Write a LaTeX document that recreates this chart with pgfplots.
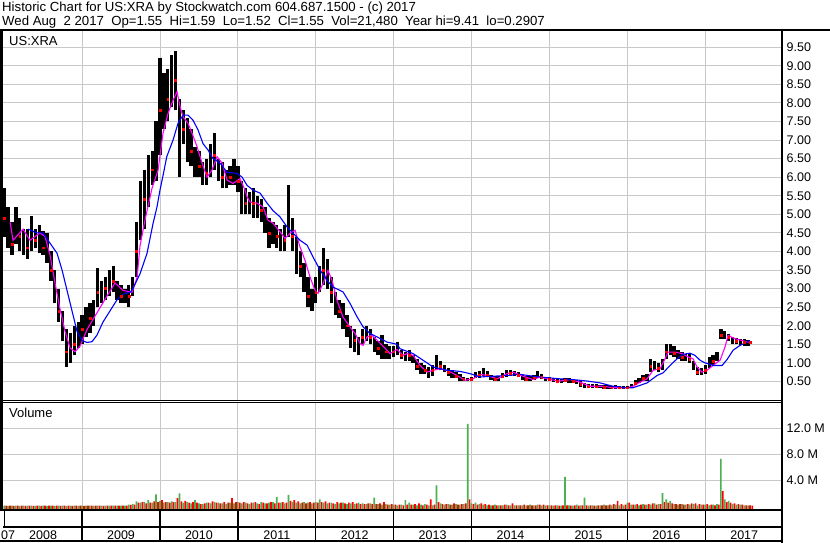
\documentclass[border=0pt]{standalone}
\usepackage{pgfplots}
\pgfplotsset{compat=1.18}
\usepackage{pgfplotstable}
\usepackage{fontspec}
\setmainfont{Liberation Sans}
\definecolor{gridc}{RGB}{200,200,200}
\definecolor{volg}{RGB}{76,176,80}
\definecolor{volr}{RGB}{255,0,0}
\definecolor{mag}{RGB}{255,0,255}
\definecolor{mab}{RGB}{0,0,255}

\pgfplotstableread{
x lo hi c g r
2008.00 4.40 5.70 4.90 0.05 0.04
2008.05 4.10 5.20 4.50 0.03 0.05
2008.10 3.90 4.80 4.20 0.04 0.03
2008.15 4.20 5.20 4.60 0.05 0.04
2008.20 4.00 4.90 4.40 0.03 0.05
2008.25 3.90 4.60 4.20 0.04 0.03
2008.30 3.80 4.60 4.10 0.05 0.06
2008.35 4.00 4.95 4.50 0.04 0.03
2008.40 4.10 4.60 4.30 0.03 0.04
2008.45 3.95 4.70 4.40 0.05 0.03
2008.50 3.90 4.55 4.10 0.04 0.05
2008.55 3.70 4.50 3.90 0.03 0.04
2008.60 3.20 4.00 3.50 0.04 0.05
2008.65 2.60 3.50 2.90 0.03 0.04
2008.70 2.10 3.00 2.40 0.05 0.03
2008.75 1.60 2.40 1.90 0.04 0.05
2008.80 0.90 1.90 1.30 0.03 0.04
2008.85 1.00 1.80 1.30 0.05 0.03
2008.90 1.20 2.00 1.50 0.04 0.04
2008.95 1.40 2.10 1.80 0.03 0.05
2009.00 1.50 2.30 1.90 0.04 0.03
2009.05 1.70 2.50 2.10 0.05 0.04
2009.10 1.80 2.60 2.20 0.04 0.05
2009.15 2.00 2.70 2.40 0.03 0.04
2009.20 2.50 3.55 2.90 0.05 0.06
2009.25 2.60 3.20 2.80 0.04 0.03
2009.30 2.70 3.30 3.00 0.05 0.04
2009.35 2.80 3.50 3.10 0.06 0.05
2009.40 2.90 3.60 3.20 0.05 0.04
2009.45 2.70 3.20 2.90 0.04 0.05
2009.50 2.60 3.10 2.80 0.05 0.04
2009.55 2.60 3.00 2.70 0.06 0.05
2009.60 2.50 3.10 2.80 0.20 0.15
2009.65 2.80 3.30 3.00 0.30 0.20
2009.70 3.30 4.80 4.00 0.70 0.50
2009.75 4.30 5.90 5.00 0.50 0.60
2009.80 4.60 6.20 5.40 0.60 0.40
2009.85 5.20 6.60 5.90 0.90 0.50
2009.90 5.80 6.70 6.20 0.50 0.70
2009.95 5.90 7.50 6.60 1.80 0.60
2010.00 6.60 9.20 7.80 0.80 0.90
2010.05 7.30 8.80 7.90 0.50 0.60
2010.10 7.50 8.90 8.10 0.60 0.50
2010.15 7.90 9.30 8.50 0.70 0.60
2010.20 7.80 9.40 8.60 0.60 1.20
2010.25 6.00 8.10 7.00 1.95 0.70
2010.30 6.90 7.80 7.30 0.50 0.80
2010.35 6.40 7.60 7.00 0.60 0.50
2010.40 6.30 7.30 6.70 0.40 0.60
2010.45 6.00 6.80 6.40 0.90 0.50
2010.50 6.00 6.70 6.30 0.40 0.30
2010.55 5.80 6.40 6.10 0.30 0.40
2010.60 5.80 6.50 6.10 0.50 0.50
2010.65 6.00 6.90 6.40 0.40 0.70
2010.70 6.20 7.20 6.60 0.60 0.50
2010.75 5.90 6.50 6.20 0.50 0.40
2010.80 5.70 6.40 6.00 0.40 0.60
2010.85 5.70 6.20 5.90 0.30 0.50
2010.90 5.80 6.30 6.00 0.50 1.20
2010.95 5.80 6.50 6.10 0.40 0.60
2011.00 5.60 6.30 5.90 0.60 0.50
2011.05 5.00 5.90 5.40 0.40 0.60
2011.10 5.00 5.70 5.30 0.50 0.40
2011.15 5.00 5.60 5.30 0.30 0.50
2011.20 4.90 5.70 5.30 0.50 0.60
2011.25 4.90 5.50 5.20 0.40 0.30
2011.30 4.80 5.40 5.10 0.60 0.50
2011.35 4.50 5.20 4.80 0.40 0.40
2011.40 4.10 4.90 4.50 0.50 0.60
2011.45 4.20 4.80 4.50 0.60 0.40
2011.50 4.10 4.70 4.40 1.40 0.50
2011.55 4.00 4.60 4.30 0.50 0.60
2011.60 4.00 4.70 4.30 0.40 0.50
2011.65 4.40 5.80 4.80 1.70 0.80
2011.70 4.00 4.90 4.40 0.60 0.90
2011.75 3.40 4.40 3.80 0.50 0.70
2011.80 3.30 4.00 3.60 0.40 0.50
2011.85 2.90 3.70 3.20 0.60 0.40
2011.90 2.50 3.30 2.80 0.50 0.60
2011.95 2.40 3.00 2.70 0.40 0.50
2012.00 2.60 3.30 2.90 0.60 0.50
2012.05 2.90 3.60 3.20 1.00 0.60
2012.10 3.10 4.10 3.50 0.50 0.70
2012.15 3.00 3.80 3.30 0.40 0.50
2012.20 2.60 3.30 2.90 0.50 0.40
2012.25 2.30 2.90 2.60 0.30 0.60
2012.30 2.20 2.70 2.40 0.40 0.50
2012.35 1.90 2.60 2.20 0.50 0.40
2012.40 1.70 2.30 2.00 0.30 0.50
2012.45 1.40 2.00 1.70 0.40 0.60
2012.50 1.30 1.90 1.60 0.30 0.40
2012.55 1.20 1.70 1.40 0.50 0.30
2012.60 1.50 1.90 1.70 0.40 0.30
2012.65 1.60 2.00 1.80 0.30 0.40
2012.70 1.50 1.90 1.70 0.40 0.30
2012.75 1.30 1.70 1.50 1.30 0.30
2012.80 1.20 1.60 1.40 0.30 0.40
2012.85 1.10 1.75 1.30 0.20 0.60
2012.90 1.10 1.50 1.30 0.30 0.20
2012.95 1.10 1.45 1.25 0.20 0.30
2013.00 1.15 1.45 1.30 0.20 0.20
2013.05 1.20 1.55 1.35 0.10 0.20
2013.10 1.10 1.35 1.20 0.20 0.10
2013.15 1.05 1.30 1.15 0.90 0.20
2013.20 1.05 1.35 1.20 0.50 0.20
2013.25 1.00 1.20 1.10 0.20 0.30
2013.30 0.80 1.10 0.90 0.10 0.40
2013.35 0.70 1.00 0.80 0.20 0.10
2013.40 0.70 0.95 0.80 0.30 0.20
2013.45 0.60 0.90 0.70 0.10 1.00
2013.50 0.65 0.95 0.80 0.10 0.20
2013.55 0.80 1.20 0.95 3.20 0.60
2013.60 0.80 1.05 0.90 0.40 0.30
2013.65 0.75 0.95 0.85 0.20 0.30
2013.70 0.65 0.85 0.75 0.30 0.20
2013.75 0.60 0.80 0.70 0.20 0.40
2013.80 0.60 0.75 0.65 0.30 0.20
2013.85 0.50 0.70 0.58 0.20 0.30
2013.90 0.50 0.62 0.55 0.30 0.40
2013.95 0.50 0.60 0.55 12.70 1.00
2014.00 0.50 0.62 0.55 0.40 0.30
2014.05 0.60 0.75 0.66 0.50 0.20
2014.10 0.60 0.78 0.68 0.30 0.40
2014.15 0.65 0.85 0.72 0.20 0.30
2014.20 0.62 0.78 0.68 0.10 0.20
2014.25 0.55 0.68 0.60 0.10 0.10
2014.30 0.52 0.64 0.57 0.20 0.10
2014.35 0.52 0.64 0.57 0.10 0.10
2014.40 0.58 0.72 0.63 0.10 0.20
2014.45 0.62 0.80 0.70 0.20 0.10
2014.50 0.65 0.82 0.72 0.10 0.40
2014.55 0.65 0.78 0.70 0.10 0.10
2014.60 0.62 0.75 0.67 0.10 0.10
2014.65 0.55 0.66 0.60 0.10 0.20
2014.70 0.52 0.64 0.57 0.10 0.10
2014.75 0.52 0.64 0.58 0.20 0.10
2014.80 0.55 0.66 0.60 0.10 0.10
2014.85 0.60 0.78 0.66 0.20 0.20
2014.90 0.56 0.70 0.62 0.10 0.20
2014.95 0.50 0.63 0.55 0.10 0.10
2015.00 0.50 0.62 0.55 0.10 0.10
2015.05 0.48 0.58 0.52 0.05 0.10
2015.10 0.45 0.56 0.50 0.10 0.05
2015.15 0.46 0.57 0.50 0.05 0.10
2015.20 0.48 0.60 0.53 4.50 0.10
2015.25 0.47 0.58 0.52 0.10 0.05
2015.30 0.46 0.56 0.50 0.05 0.10
2015.35 0.44 0.54 0.48 0.20 0.05
2015.40 0.36 0.50 0.42 0.10 0.10
2015.45 0.32 0.45 0.37 1.30 0.10
2015.50 0.32 0.43 0.36 0.05 0.10
2015.55 0.33 0.44 0.37 0.10 0.05
2015.60 0.32 0.42 0.36 0.05 0.10
2015.65 0.31 0.41 0.35 0.10 0.10
2015.70 0.30 0.40 0.34 0.20 0.10
2015.75 0.30 0.40 0.34 0.10 0.20
2015.80 0.30 0.38 0.33 0.10 0.30
2015.85 0.30 0.40 0.34 0.20 0.80
2015.90 0.29 0.38 0.33 0.10 0.30
2015.95 0.29 0.38 0.33 0.10 0.20
2016.00 0.29 0.38 0.33 0.50 0.50
2016.05 0.32 0.42 0.36 0.20 0.20
2016.10 0.40 0.55 0.46 0.20 0.30
2016.15 0.45 0.60 0.52 0.10 0.20
2016.20 0.50 0.68 0.58 0.30 0.20
2016.25 0.52 0.70 0.60 0.20 0.30
2016.30 0.75 1.10 0.90 0.20 0.40
2016.35 0.80 1.05 0.90 0.40 0.20
2016.40 0.75 1.00 0.85 0.30 0.30
2016.45 0.80 1.10 0.95 2.00 0.60
2016.50 1.10 1.50 1.30 1.00 0.50
2016.55 1.20 1.50 1.35 0.80 0.40
2016.60 1.15 1.45 1.25 0.30 0.30
2016.65 1.10 1.35 1.20 0.20 0.30
2016.70 1.05 1.30 1.15 0.30 0.20
2016.75 1.05 1.25 1.15 0.20 0.30
2016.80 1.00 1.25 1.10 0.20 0.40
2016.85 0.80 1.05 0.90 0.30 0.40
2016.90 0.68 0.90 0.75 0.10 0.30
2016.95 0.66 0.85 0.72 0.20 0.20
2017.00 0.70 0.95 0.80 0.20 0.30
2017.05 0.85 1.15 1.00 0.10 0.20
2017.10 0.95 1.20 1.05 0.20 0.10
2017.15 1.05 1.30 1.15 0.30 0.20
2017.20 1.65 1.90 1.75 7.30 2.30
2017.25 1.65 1.85 1.72 1.00 0.60
2017.30 1.60 1.78 1.68 0.80 0.50
2017.35 1.52 1.70 1.60 0.30 0.40
2017.40 1.50 1.68 1.58 0.20 0.30
2017.45 1.48 1.65 1.55 0.20 0.20
2017.50 1.45 1.65 1.55 0.10 0.10
2017.55 1.45 1.62 1.52 0.10 0.10
2017.58 1.52 1.59 1.55 0.05 0.05
}\pxdata

\pgfplotstableread{
x y
2008.075 4.80
2008.114 4.30
2008.242 4.60
2008.332 4.30
2008.460 4.50
2008.525 4.40
2008.589 3.90
2008.653 3.15
2008.717 2.45
2008.781 1.85
2008.846 1.40
2008.910 1.30
2008.974 1.45
2009.064 1.90
2009.192 2.35
2009.321 2.80
2009.423 3.15
2009.526 2.95
2009.641 2.90
2009.706 3.30
2009.744 4.15
2009.808 4.85
2009.898 5.70
2009.975 6.18
2010.039 7.18
2010.104 7.72
2010.168 8.07
2010.219 8.30
2010.258 7.90
2010.296 7.63
2010.360 7.45
2010.412 7.18
2010.476 6.82
2010.540 6.38
2010.604 6.00
2010.668 6.19
2010.733 6.55
2010.797 6.38
2010.861 5.92
2010.938 5.83
2011.028 5.96
2011.092 5.65
2011.118 5.47
2011.156 5.33
2011.246 5.30
2011.323 5.20
2011.387 4.84
2011.451 4.76
2011.541 4.53
2011.605 4.35
2011.670 4.49
2011.734 4.57
2011.798 4.12
2011.862 3.76
2011.926 3.31
2011.991 2.95
2012.029 2.87
2012.093 3.13
2012.157 3.49
2012.209 3.22
2012.273 2.68
2012.350 2.23
2012.440 1.97
2012.504 1.79
2012.568 1.52
2012.607 1.47
2012.658 1.70
2012.722 1.74
2012.786 1.61
2012.864 1.45
2012.953 1.25
2013.043 1.36
2013.120 1.20
2013.172 1.25
2013.249 1.20
2013.339 0.93
2013.429 0.75
2013.506 0.80
2013.595 0.84
2013.685 0.80
2013.814 0.66
2013.916 0.53
2014.019 0.57
2014.109 0.69
2014.199 0.66
2014.327 0.57
2014.455 0.71
2014.533 0.75
2014.661 0.64
2014.789 0.55
2014.879 0.62
2015.007 0.55
2015.135 0.51
2015.264 0.55
2015.392 0.48
2015.520 0.37
2015.688 0.37
2015.816 0.33
2015.996 0.33
2016.073 0.37
2016.163 0.48
2016.253 0.57
2016.330 0.80
2016.420 0.84
2016.484 1.11
2016.522 1.29
2016.612 1.29
2016.702 1.25
2016.779 1.16
2016.843 1.11
2016.894 0.89
2016.958 0.75
2017.023 0.80
2017.100 0.93
2017.190 1.07
2017.254 1.43
2017.292 1.74
2017.382 1.65
2017.472 1.60
2017.549 1.56
2017.585 1.55
}\magdata

\pgfplotstableread{
x y
2008.306 4.60
2008.420 4.50
2008.499 4.50
2008.563 4.30
2008.679 3.95
2008.743 3.50
2008.807 2.95
2008.871 2.40
2008.935 1.85
2009.000 1.60
2009.064 1.55
2009.128 1.57
2009.192 1.75
2009.269 2.10
2009.359 2.40
2009.449 2.70
2009.526 2.85
2009.616 2.90
2009.654 3.00
2009.744 3.40
2009.834 3.95
2009.911 4.75
2009.962 5.20
2010.000 5.65
2010.045 6.10
2010.087 6.55
2010.168 7.00
2010.232 7.45
2010.296 7.67
2010.360 7.67
2010.425 7.53
2010.489 7.27
2010.553 6.90
2010.617 6.73
2010.681 6.50
2010.771 6.38
2010.861 6.13
2010.989 6.10
2011.054 6.00
2011.118 5.78
2011.195 5.65
2011.285 5.57
2011.375 5.30
2011.451 5.10
2011.541 4.93
2011.631 4.66
2011.708 4.49
2011.798 4.30
2011.888 4.17
2011.965 3.85
2012.055 3.50
2012.145 3.22
2012.222 3.04
2012.350 2.91
2012.440 2.60
2012.530 2.24
2012.607 1.97
2012.697 1.79
2012.786 1.70
2012.915 1.56
2013.043 1.50
2013.082 1.38
2013.249 1.25
2013.377 1.07
2013.506 0.89
2013.685 0.80
2013.852 0.77
2013.980 0.71
2014.109 0.62
2014.276 0.64
2014.455 0.66
2014.622 0.69
2014.789 0.64
2014.969 0.60
2015.135 0.57
2015.302 0.55
2015.482 0.51
2015.649 0.46
2015.816 0.37
2015.996 0.33
2016.073 0.33
2016.253 0.46
2016.381 0.66
2016.458 0.73
2016.548 0.93
2016.638 1.11
2016.715 1.23
2016.804 1.26
2016.869 1.20
2016.933 1.07
2016.997 1.00
2017.100 0.93
2017.216 0.93
2017.280 1.09
2017.357 1.34
2017.446 1.47
2017.536 1.56
2017.575 1.60
}\bluedata

\begin{document}
\begin{tikzpicture}[x=1pt,y=1pt]
\fill[white] (0,0) rectangle (830,543);
\pgfplotsset{
  common/.style={
    scale only axis, width=779pt,
    xmin=2007.985, xmax=2017.985,
    axis line style={draw=none},
    major tick length=0pt,
    grid=major,
    grid style={gridc, line width=0.9pt},
    xtick={2009,2010,2011,2012,2013,2014,2015,2016,2017},
    xticklabels={},
    yticklabel pos=right,
    yticklabel style={anchor=west, inner sep=0pt, xshift=4.5pt, font=\fontsize{12.5}{14}\selectfont},
    /pgf/number format/assume math mode=true,
  }
}
% price panel
\begin{axis}[common, at={(3pt,143pt)}, anchor=south west, height=369pt,
  ymin=0, ymax=9.935,
  ytick={0.5,1,1.5,2,2.5,3,3.5,4,4.5,5,5.5,6,6.5,7,7.5,8,8.5,9,9.5},
  yticklabel style={/pgf/number format/fixed, /pgf/number format/fixed zerofill, /pgf/number format/precision=2}]
\addplot[black, only marks, mark=*, mark size=0pt,
  error bars/.cd, y dir=plus, y explicit, error mark=none,
  error bar style={line width=3.3pt, black}]
  table[x=x, y=lo, y error expr=\thisrow{hi}-\thisrow{lo}] {\pxdata};
\addplot[only marks, mark=square*, mark size=0.9pt, red, each nth point=2] table[x=x, y=c] {\pxdata};
\addplot[mag, line width=1.1pt] table[x=x, y=y] {\magdata};
\addplot[mab, line width=1.1pt] table[x=x, y=y] {\bluedata};
\end{axis}
% volume panel
\begin{axis}[common, at={(3pt,33.5pt)}, anchor=south west, height=106.8pt,
  ymin=0, ymax=16.53, clip=false,
  ytick={4.55,8.55,12.55}, yticklabels={4.0 M,8.0 M,12.0 M}]
\addplot[ybar, bar width=1.7pt, bar shift=0pt, fill=volg, draw=none] table[x=x, y expr=\thisrow{g}+0.55] {\pxdata};
\addplot[ybar, bar width=1.7pt, bar shift=0pt, fill=volr, draw=none] table[x expr=\thisrow{x}+0.025, y expr=\thisrow{r}+0.55] {\pxdata};
\pgfplotsinvokeforeach{2009,2010,2011,2012,2013,2014,2015,2016,2017}{
  \draw[black, line width=1.3pt] (axis cs:#1,0) -- ++(0pt,-32pt);
}
\draw[black, line width=1.3pt] (axis cs:2008,0) -- ++(0pt,-17pt);
\pgfplotsinvokeforeach{2008,2009,2010,2011,2012,2013,2014,2015,2016,2017}{
  \node[anchor=base, inner sep=0pt, font=\fontsize{12.5}{14}\selectfont] at (axis cs:#1.5,0) [yshift=-29.8pt] {#1};
}
\end{axis}
% frame
\fill[black] (0,511.5) rectangle (830,513.5);
\fill[black] (0,33) rectangle (2.8,513);
\fill[black] (780.8,0) rectangle (782.8,513);
\fill[black] (2.8,141.8) rectangle (781,142.8);
\fill[black] (2.8,139.8) rectangle (781,140.8);
\fill[black] (0,32) rectangle (781,34);
\fill[black] (2.8,15.3) rectangle (781,17.3);
\fill[black] (0,1) rectangle (781,3);
% texts
\node[anchor=base west, inner sep=0pt, font=\fontsize{13.2}{15}\selectfont] at (2,531) {Historic Chart for US:XRA by Stockwatch.com 604.687.1500 - (c) 2017};
\node[anchor=base west, inner sep=0pt, font=\fontsize{13.2}{15}\selectfont] at (2,517) {Wed Aug~~2 2017~~Op=1.55~~Hi=1.59~~Lo=1.52~~Cl=1.55~~Vol=21,480~~Year hi=9.41~~lo=0.2907};
\node[anchor=base west, inner sep=0pt, font=\fontsize{13}{15}\selectfont] at (9,497) {US:XRA};
\node[anchor=base west, inner sep=0pt, font=\fontsize{13}{15}\selectfont] at (9,125) {Volume};
\node[anchor=base west, inner sep=0pt, font=\fontsize{12.5}{14}\selectfont] at (1,3.7) {07};
\end{tikzpicture}
\end{document}
